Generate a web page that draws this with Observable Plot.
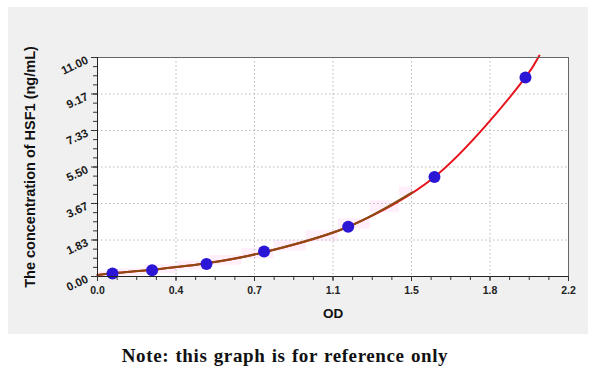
<!DOCTYPE html>
<html>
<head>
<meta charset="utf-8">
<script src="https://cdn.jsdelivr.net/npm/d3@7"></script>
<script src="https://cdn.jsdelivr.net/npm/@observablehq/plot@0.6"></script>
<style>
  html, body { margin: 0; padding: 0; background: #ffffff; }
  #wrap { position: relative; width: 600px; height: 370px; overflow: hidden; }
  #panel { position: absolute; left: 8px; top: 7px; width: 580px; height: 327px; background: #f0f0f0; }
  #chart { position: absolute; left: 0; top: 0; }
  #note { position: absolute; left: -15px; top: 341px; width: 600px; text-align: center;
          font-family: "Liberation Serif", "DejaVu Serif", serif; font-weight: bold; font-size: 19px;
          letter-spacing: 0.6px; word-spacing: 1px; color: #111; line-height: 30px; }
</style>
</head>
<body>
<div id="wrap">
  <div id="panel"></div>
  <div id="chart"></div>
  <div id="note">Note: this graph is for reference only</div>
</div>
<script>
// Standard points (OD, concentration ng/mL)
const stdOD   = [0.070, 0.255, 0.509, 0.778, 1.171, 1.574, 1.999];
const stdConc = [0.156, 0.312, 0.625, 1.25, 2.5, 5.0, 10.0];

// Fitted curve
const curveOD   = [0.0, 0.070, 0.255, 0.509, 0.778, 1.171, 1.574, 1.999, 2.064];
const curveConc = [0.08, 0.16, 0.34, 0.66, 1.22, 2.50, 5.00, 10.00, 11.10];

// Brown (lower) segment of the curve
const brownOD   = [0.0, 0.070, 0.255, 0.509, 0.778, 1.171, 1.47];
const brownConc = [0.08, 0.16, 0.34, 0.66, 1.22, 2.50, 4.23];

// Pink band around the lower curve
const bandOD = [0.0, 0.15, 0.3, 0.45, 0.6, 0.75, 0.9, 1.05, 1.2, 1.35, 1.47];
const bandLo = [-0.15, 0.02, 0.15, 0.33, 0.56, 0.88, 1.28, 1.74, 2.38, 3.2, 4.0];
const bandHi = [0.25, 0.38, 0.58, 0.78, 1.06, 1.42, 1.82, 2.3, 2.9, 3.8, 4.5];

// Axes
const xTicks = [0, 0.36667, 0.73333, 1.1, 1.46667, 1.83333, 2.2];
const xTickLabels = ["0.0", "0.4", "0.7", "1.1", "1.5", "1.8", "2.2"];
const yTicks = [0, 1.83333, 3.66667, 5.5, 7.33333, 9.16667, 11];
const yTickLabels = ["0.00", "1.83", "3.67", "5.50", "7.33", "9.17", "11.00"];
const xLabel = "OD";
const yLabel = "The concentration of HSF1 (ng/mL)";

const xMinor = d3.range(0, 25).map(i => i * 2.2 / 24);
const yMinor = d3.range(0, 25).map(i => i * 11 / 24);

const pts = stdOD.map((x, i) => ({x, y: stdConc[i]}));
const curve = curveOD.map((x, i) => ({x, y: curveConc[i]}));
const brown = brownOD.map((x, i) => ({x, y: brownConc[i]}));
const band = bandOD.map((x, i) => ({x, lo: bandLo[i], hi: bandHi[i]}));

const chart = Plot.plot({
  width: 600,
  height: 340,
  marginLeft: 97,
  marginRight: 32,
  marginTop: 57,
  marginBottom: 64,
  style: {background: "transparent", fontFamily: "'Liberation Sans', Arial, sans-serif", fontWeight: "bold", color: "#222", overflow: "visible"},
  x: {domain: [0, 2.2]},
  y: {domain: [0, 11]},
  marks: [
    Plot.frame({fill: "#ffffff", stroke: "none"}),
    Plot.gridX(xTicks.slice(1, -1), {stroke: "#b8b8b8", strokeOpacity: 1, strokeDasharray: "1.5,2.5"}),
    Plot.gridY(yTicks.slice(1, -1), {stroke: "#b8b8b8", strokeOpacity: 1, strokeDasharray: "1.5,2.5"}),
    Plot.areaY(band, {x: "x", y1: "lo", y2: "hi", curve: "step", fill: "#ff99e0", fillOpacity: 0.16, clip: true}),
    Plot.line(curve, {x: "x", y: "y", stroke: "#e8121c", strokeWidth: 2, curve: "catmull-rom"}),
    Plot.line(brown, {x: "x", y: "y", stroke: "#8a4a12", strokeWidth: 2, curve: "catmull-rom"}),
    Plot.dot(pts, {x: "x", y: "y", r: 6, fill: "#2b16d6", stroke: "none"}),
    Plot.frame({stroke: "#666", strokeWidth: 1}),
    Plot.ruleX([0], {stroke: "#222"}),
    Plot.ruleY([0], {stroke: "#222"}),
    Plot.axisX(xMinor, {tickSize: 4, text: null, label: null, stroke: "#333"}),
    Plot.axisY(yMinor, {tickSize: 4, text: null, label: null, stroke: "#333"}),
    Plot.axisX(xTicks, {tickSize: 5, tickPadding: 5, label: null, fontSize: 10.5, fontWeight: "bold",
      tickFormat: d => xTickLabels[xTicks.indexOf(d)], stroke: "#333", fill: "#222"}),
    Plot.axisY(yTicks, {tickSize: 6, text: null, label: null, stroke: "#333"}),
    Plot.text(yTicks, {x: 0, y: d => d, text: d => yTickLabels[yTicks.indexOf(d)], dx: -10, dy: 2,
      rotate: -25, textAnchor: "end", fontSize: 11.5, fontWeight: "bold", fill: "#1a1a1a"}),
    Plot.text([xLabel], {frameAnchor: "bottom", dy: 41, fontSize: 13.5, fontWeight: "bold", fill: "#111"}),
    Plot.text([yLabel], {frameAnchor: "left", dx: -67, rotate: -90, textAnchor: "middle", fontSize: 14.5, fontWeight: "bold", fill: "#111"})
  ]
});
document.getElementById("chart").appendChild(chart);
</script>
</body>
</html>
